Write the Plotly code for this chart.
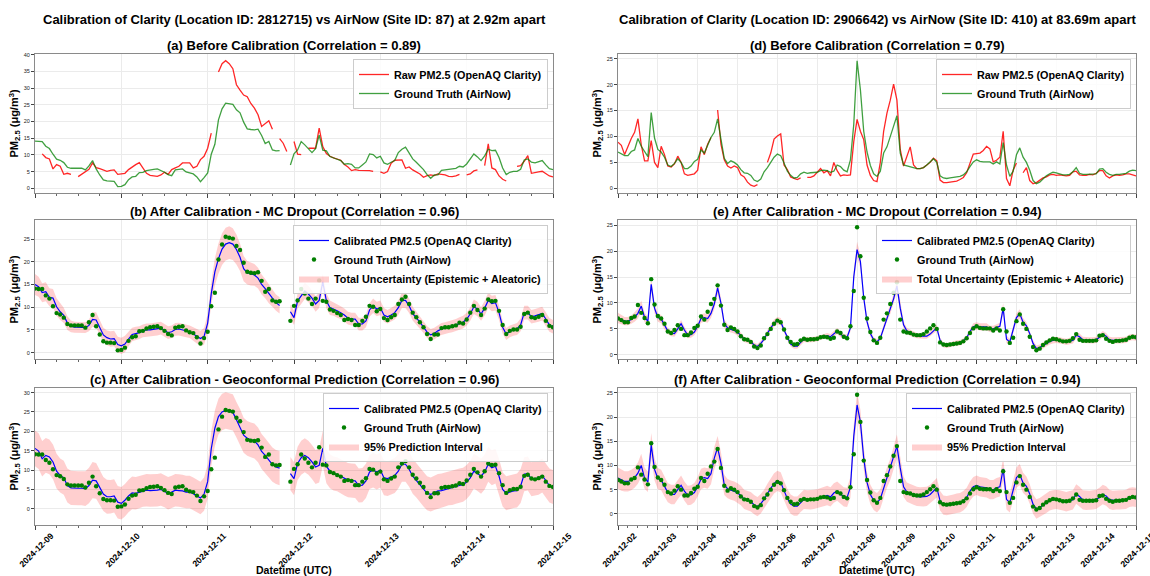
import plotly.graph_objects as go
import pandas as pd

# ---------------- data ----------------
LEFT_START = "2024-12-09"
LEFT_END = "2024-12-15"
RIGHT_START = "2024-12-02"
RIGHT_END = "2024-12-15"

# left site, hourly values 2024-12-09 00:00 .. 2024-12-15 00:00
left_gt = [
    14.1, 14.0, 14.0, 12.6, 11.9, 10.2, 8.7, 8.4, 7.7, 6.3, 6.0, 6.0, 6.0, 6.0, 5.5, 6.7, 8.3, 5.8, 4.0, 2.5, 2.2, 2.2, 2.1, 0.5,
    0.6, 1.1, 2.6, 3.4, 3.6, 4.7, 4.8, 5.3, 5.6, 5.7, 5.8, 5.4, 4.8, 4.1, 3.8, 5.5, 5.7, 5.8, 4.9, 4.5, 4.3, 3.4, 2.0, 3.2,
    4.6, 10.2, 13.2, 20.5, 23.8, 25.5, 25.3, 25.1, 23.5, 22.6, 19.8, 17.8, 17.6, 17.5, 17.7, 15.8, 13.4, 14.0, 11.5, 11.2, 11.3, None, None, 7.0,
    10.3, 11.5, 14.0, 13.0, 11.9, 10.7, 11.9, 15.9, 11.4, 11.2, 9.5, 9.2, 8.7, 8.3, 7.2, 7.4, 7.2, 6.1, 6.1, 7.0, 7.9, 10.3, 10.1, 9.1,
    9.6, 7.6, 7.2, 7.8, 8.3, 10.7, 11.7, 12.3, 10.7, 8.8, 7.8, 6.7, 5.6, 4.1, 3.0, 4.0, 4.0, 5.4, 5.6, 5.6, 5.8, 6.0, 6.6, 6.4,
    7.3, 8.8, 10.3, 9.4, 8.3, 9.7, 11.7, 11.3, 11.4, 9.2, 6.1, 4.1, 4.8, 5.1, 5.1, 5.7, 8.5, 8.8, 7.8, 7.6, 7.9, 8.3, 7.0, 5.9, 5.6,
]
left_raw = [
    None, None, 10.3, 9.2, 8.8, 5.8, 7.1, 6.6, 4.2, 4.5, 4.2, None, 3.5, 4.3, 5.0, 5.7, 7.6, 6.2, 5.9, 5.4, 5.1, 5.4, 5.5, 4.2,
    4.4, 4.5, 5.6, 6.4, 7.1, 7.7, 6.1, 4.5, 3.9, 3.7, 3.6, 4.0, 4.8, 4.2, 5.6, 6.1, 6.6, 7.6, 7.6, 7.6, 6.1, 6.6, 8.6, 9.6,
    12.0, 16.5, None, 34.8, 37.3, 38.2, 37.3, 35.8, 31.0, 29.4, 27.9, 27.4, 25.4, 24.0, 22.0, 18.5, 19.5, 20.2, 17.7, None, 14.9, 13.5, 11.0, None,
    14.0, 10.2, 10.1, None, 12.0, 11.9, 12.0, 18.0, 12.5, 10.4, 9.6, 9.1, 8.8, 8.4, 7.1, 6.4, 5.3, 5.6, 5.4, 5.4, 5.3, 5.3, 5.1, None,
    4.9, 4.5, 5.0, 7.5, 8.4, 8.5, 8.5, 6.0, 6.4, 5.5, 5.0, 4.3, 3.3, 3.8, 4.0, 3.8, 4.3, 4.2, 4.0, 3.6, 3.5, 3.7, 4.2, None,
    4.0, 4.3, 5.2, 5.5, None, 6.8, 13.3, 6.1, 5.6, 3.7, 2.7, 2.2, None, None, 6.6, 6.8, 8.1, 9.8, 4.5, 4.6, 4.9, 5.1, 4.5, 3.7, 3.4,
]
left_mc = [
    15.0, 14.5, 13.2, 13.4, 12.2, 12.0, 10.1, 9.0, 8.2, 6.5, 5.8, 5.6, 5.6, 5.5, 5.5, 6.0, 7.3, 7.2, 5.6, 3.9, 3.3, 3.0, 3.1, 1.8,
    1.5, 1.9, 3.0, 4.0, 4.2, 4.4, 4.8, 5.0, 5.0, 5.1, 5.2, 5.4, 4.9, 4.4, 4.6, 5.1, 5.2, 5.0, 4.8, 4.6, 4.1, 3.6, 3.1, 3.6,
    6.5, 13.0, 17.8, 20.7, 22.8, 23.9, 24.2, 23.9, 22.7, 21.0, 18.5, 17.6, 17.3, 17.1, 16.4, 15.0, 14.1, 12.9, 12.0, 11.0, 10.4, None, None, 9.0,
    7.7, 11.4, 12.5, 13.6, 12.9, 12.0, 10.7, 11.5, 15.6, 11.4, 9.9, 9.6, 9.2, 8.8, 8.3, 7.6, 7.4, 7.4, 6.3, 6.3, 7.0, 9.4, 10.3, 9.6,
    9.9, 8.3, 7.9, 8.3, 8.8, 9.9, 11.5, 11.5, 10.3, 8.6, 7.7, 6.7, 5.6, 4.5, 3.9, 4.2, 4.8, 5.2, 5.4, 5.6, 5.8, 6.1, 6.4, 6.7,
    7.4, 8.5, 10.1, 9.6, 8.5, 9.8, 11.5, 10.8, 11.0, 8.8, 5.6, 4.1, 4.7, 5.0, 5.2, 6.1, 8.8, 8.8, 7.9, 8.1, 8.3, 8.6, 7.4, 6.1, 5.7,
]
left_mc_unc = [
    2.3, 2.2, 2.1, 2.1, 2.0, 2.0, 1.9, 1.8, 1.7, 1.5, 1.3, 1.2, 1.2, 1.2, 1.2, 1.3, 1.6, 1.7, 1.6, 1.6, 1.6, 1.7, 1.7, 1.7,
    1.8, 1.8, 1.6, 1.5, 1.5, 1.4, 1.4, 1.4, 1.4, 1.4, 1.4, 1.4, 1.4, 1.4, 1.4, 1.4, 1.4, 1.4, 1.4, 1.4, 1.5, 1.6, 1.7, 1.8,
    2.0, 2.5, 3.0, 3.3, 3.5, 3.6, 3.6, 3.5, 3.3, 3.0, 2.8, 2.6, 2.5, 2.4, 2.3, 2.2, 2.1, 2.0, 1.9, 1.8, 1.8, 1.8, 1.8, 1.6,
    1.6, 1.7, 1.8, 1.8, 1.8, 1.7, 1.7, 1.7, 1.8, 1.7, 1.6, 1.5, 1.5, 1.4, 1.4, 1.4, 1.4, 1.4, 1.4, 1.4, 1.4, 1.5, 1.6, 1.6,
    1.6, 1.5, 1.5, 1.5, 1.5, 1.6, 1.7, 1.7, 1.6, 1.5, 1.4, 1.4, 1.3, 1.3, 1.3, 1.3, 1.3, 1.3, 1.3, 1.3, 1.3, 1.3, 1.4, 1.4,
    1.4, 1.5, 1.6, 1.6, 1.5, 1.6, 1.7, 1.7, 1.7, 1.6, 1.4, 1.3, 1.3, 1.3, 1.3, 1.4, 1.5, 1.5, 1.5, 1.5, 1.5, 1.5, 1.5, 1.5, 1.5,
]
left_geo = [
    15.6, 14.9, 12.9, 13.8, 13.4, 12.1, 9.7, 8.6, 8.0, 6.0, 5.4, 5.3, 5.3, 5.3, 5.2, 6.0, 7.4, 7.2, 5.4, 3.8, 3.1, 3.1, 3.3, 1.7,
    1.4, 2.2, 3.3, 4.1, 4.0, 4.3, 4.7, 4.8, 4.7, 4.7, 4.8, 5.0, 4.6, 4.0, 4.3, 4.8, 4.7, 4.6, 4.3, 4.3, 3.9, 3.3, 2.8, 3.8,
    7.0, 15.5, 20.8, 23.8, 25.0, 25.4, 25.2, 24.9, 23.0, 21.2, 19.0, 18.2, 17.8, 17.5, 16.5, 14.8, 13.8, 12.5, 11.4, 10.8, 10.5, None, None, 9.1,
    7.8, 11.7, 13.2, 13.8, 13.2, 12.1, 10.8, 11.2, 15.6, 11.0, 9.7, 9.1, 8.9, 8.4, 7.8, 7.4, 7.3, 7.2, 6.0, 6.1, 7.2, 9.5, 10.0, 9.5,
    10.0, 8.0, 7.8, 8.2, 8.6, 9.7, 11.5, 11.5, 10.2, 8.4, 7.3, 6.3, 5.0, 4.0, 3.7, 4.1, 4.6, 4.7, 5.0, 5.3, 5.4, 5.7, 6.0, 6.2,
    6.9, 8.0, 9.7, 9.1, 8.4, 9.5, 11.5, 10.6, 11.0, 8.4, 5.0, 4.0, 4.3, 4.6, 4.7, 5.9, 8.9, 9.1, 7.6, 7.8, 8.0, 8.6, 7.2, 6.0, 5.6,
]
left_geo_unc = [
    4.6, 4.6, 4.6, 4.5, 4.5, 4.5, 4.5, 4.4, 4.4, 4.4, 4.4, 4.4, 4.4, 4.4, 4.5, 4.6, 4.7, 4.6, 4.5, 4.4, 4.4, 4.3, 4.3, 4.2,
    4.2, 4.2, 4.2, 4.2, 4.2, 4.2, 4.2, 4.2, 4.2, 4.2, 4.2, 4.2, 4.2, 4.2, 4.2, 4.2, 4.2, 4.2, 4.2, 4.2, 4.2, 4.2, 4.2, 4.3,
    4.4, 4.5, 4.6, 4.6, 4.7, 4.7, 4.7, 4.7, 4.6, 4.6, 4.5, 4.5, 4.5, 4.5, 4.5, 4.5, 4.4, 4.4, 4.4, 4.4, 4.4, 4.4, 4.4, 4.3,
    4.3, 4.3, 4.4, 4.4, 4.4, 4.4, 4.4, 4.4, 4.5, 4.4, 4.4, 4.4, 4.4, 4.4, 4.4, 4.4, 4.4, 4.4, 4.4, 4.4, 4.4, 4.4, 4.5, 4.5,
    4.5, 4.5, 4.5, 4.5, 4.5, 4.5, 4.5, 4.5, 4.5, 4.5, 4.4, 4.4, 4.4, 4.4, 4.4, 4.4, 4.4, 4.4, 4.4, 4.4, 4.4, 4.4, 4.4, 4.4,
    4.4, 4.4, 4.5, 4.5, 4.5, 4.5, 4.5, 4.5, 4.5, 4.5, 4.4, 4.4, 4.4, 4.4, 4.4, 4.4, 4.4, 4.4, 4.4, 4.4, 4.4, 4.4, 4.4, 4.4, 4.4,
]

# right site, 2-hourly values 2024-12-02 00:00 .. 2024-12-15 00:00
right_gt = [
    7.0, 6.7, 6.3, 6.3, 7.1, 7.4, 9.6, 8.1, 7.1, 6.1, 14.6, 9.7,
    7.5, 7.0, 6.0, 4.5, 4.2, 4.8, 5.7, 5.0, 3.8, 3.8, 4.3, 5.2,
    5.6, 7.4, 6.8, 8.3, 9.8, 10.8, 13.4, 9.5, 5.8, 4.8, 5.3, 5.0,
    4.5, 3.6, 3.0, 2.9, 2.5, 1.6, 1.3, 1.8, 3.2, 4.0, 5.0, 6.0,
    6.6, 6.3, 4.9, 3.3, 2.5, 2.0, 2.1, 2.8, 3.1, 2.9, 3.0, 3.0,
    3.1, 3.4, 3.5, 3.4, 3.1, 3.3, 4.5, 4.2, 3.5, 3.2, 5.5, 12.3,
    24.6, 19.0, 11.0, 7.0, 4.4, 2.8, 2.3, 3.3, 6.8, 8.0, 9.8, 12.0,
    14.0, 6.8, 4.5, 4.3, 4.2, 3.9, 3.8, 3.8, 4.0, 4.5, 5.1, 5.7,
    5.0, 2.4, 2.0, 1.9, 2.0, 2.1, 2.2, 2.3, 2.6, 3.2, 4.2, 5.1,
    5.5, 5.2, 5.1, 5.1, 5.1, 4.7, 5.1, 4.7, 8.8, 4.5, 2.3, 3.3,
    6.5, 7.8, 6.0, 5.0, 3.5, 1.5, 0.9, 1.2, 1.9, 2.4, 2.8, 3.1,
    3.0, 2.8, 2.6, 2.6, 2.7, 3.2, 4.0, 2.9, 2.7, 2.7, 2.7, 2.7,
    2.8, 3.7, 3.8, 3.1, 2.7, 2.5, 2.7, 2.7, 2.8, 2.9, 3.3, 3.5, 3.4,
]
right_raw = [
    8.9, 8.3, 6.5, 8.2, 9.6, 10.8, 13.4, 8.4, 5.3, 5.3, 9.2, 5.0,
    4.0, 8.1, 6.5, 4.3, 4.1, 4.7, 6.2, 5.0, 2.8, 2.5, 2.7, 2.8,
    3.5, 8.0, 6.5, 8.5, 9.8, None, 15.1, 8.5, 5.5, 4.3, 3.9, 4.3,
    4.0, 2.6, 2.2, 1.2, 0.6, 0.4, 0.7, None, None, 5.0, 6.8, 9.5,
    10.1, 10.5, 4.5, 3.6, 2.2, 1.9, 1.7, 2.0, None, 2.1, 2.1, 2.4,
    3.2, 3.8, 3.0, 3.4, 2.4, 5.0, 3.4, 2.4, 2.6, 2.5, 2.6, 9.0,
    13.3, 11.0, 9.4, 4.5, 2.5, 1.5, 1.3, 5.0, 11.0, 14.5, 17.0, 20.1,
    17.0, 7.5, 4.3, 6.0, 8.0, 4.5, 3.8, 3.8, 4.0, 4.5, 5.0, 5.8,
    5.3, 1.6, 1.1, 1.1, 1.2, 1.3, 1.4, 1.7, 2.1, 3.0, 4.9, 6.6,
    6.7, 6.8, 7.3, 8.1, 7.6, 5.1, 5.4, 6.0, 11.0, 1.9, 0.5, 3.5,
    4.9, None, 3.0, 4.0, 1.5, 0.9, 1.1, 1.6, 2.0, 2.2, 2.6, 2.7,
    2.5, 2.6, 2.5, 2.4, 2.5, 3.2, 3.3, 2.6, 2.5, 2.5, 2.7, 2.6,
    2.9, 3.4, 3.4, 2.4, 2.0, 2.4, 2.6, 2.5, 2.6, 2.8, 2.8, 2.6, 2.4,
]
right_mc = [
    7.1, 6.8, 6.5, 6.5, 6.8, 7.3, 8.0, 9.4, 7.2, 6.5, 13.6, 9.0,
    7.2, 6.9, 5.6, 4.6, 4.2, 4.1, 5.0, 6.0, 4.8, 3.8, 3.9, 4.4,
    5.5, 7.0, 7.2, 7.0, 8.0, 9.8, 12.9, 10.0, 6.0, 5.2, 4.9, 4.7,
    4.3, 3.8, 3.0, 2.8, 2.5, 1.9, 1.6, 2.2, 3.0, 4.2, 5.2, 6.1,
    6.6, 6.4, 4.8, 3.3, 2.1, 1.7, 1.7, 2.4, 3.0, 2.9, 2.9, 3.0,
    3.1, 3.3, 3.6, 3.7, 3.5, 4.1, 4.6, 4.0, 3.5, 3.4, 5.2, 15.0,
    20.3, 18.0, 11.0, 6.4, 4.1, 2.9, 2.5, 3.2, 5.2, 7.2, 8.8, 10.8,
    13.3, 9.0, 5.8, 4.6, 4.3, 4.0, 3.7, 3.6, 3.6, 3.6, 4.0, 4.7,
    5.2, 2.8, 1.9, 1.8, 1.9, 2.1, 2.3, 2.3, 2.7, 3.3, 4.5, 5.4,
    5.6, 5.4, 5.4, 5.4, 5.0, 5.0, 5.3, 5.5, 9.0, 3.0, 2.5, 4.7,
    7.2, 7.9, 6.3, 5.6, 4.1, 2.2, 1.2, 1.4, 1.8, 2.2, 2.6, 2.8,
    2.9, 2.8, 2.7, 2.5, 2.7, 2.8, 3.8, 3.5, 2.9, 2.8, 2.8, 2.8,
    2.9, 3.4, 4.0, 3.6, 2.9, 2.8, 2.8, 2.8, 2.8, 2.9, 3.3, 3.4, 3.3,
]
right_mc_unc = [
    1.0, 0.9, 0.8, 0.8, 0.8, 0.9, 1.0, 1.1, 0.9, 0.8, 1.3, 1.0,
    0.8, 0.8, 0.7, 0.6, 0.6, 0.6, 0.6, 0.7, 0.6, 0.6, 0.6, 0.6,
    0.7, 0.8, 0.8, 0.8, 0.9, 1.0, 1.2, 1.0, 0.8, 0.7, 0.6, 0.6,
    0.6, 0.5, 0.5, 0.5, 0.5, 0.5, 0.5, 0.5, 0.5, 0.6, 0.6, 0.7,
    0.7, 0.7, 0.6, 0.5, 0.5, 0.5, 0.5, 0.5, 0.5, 0.5, 0.5, 0.5,
    0.5, 0.5, 0.5, 0.5, 0.5, 0.5, 0.6, 0.6, 0.5, 0.5, 0.7, 1.2,
    1.5, 1.3, 1.0, 0.8, 0.6, 0.5, 0.5, 0.5, 0.7, 0.8, 0.9, 1.0,
    1.2, 1.0, 0.7, 0.6, 0.6, 0.6, 0.5, 0.5, 0.5, 0.5, 0.5, 0.6,
    0.6, 0.5, 0.5, 0.5, 0.5, 0.5, 0.5, 0.5, 0.5, 0.5, 0.6, 0.7,
    0.7, 0.7, 0.7, 0.7, 0.6, 0.6, 0.6, 0.7, 1.0, 0.7, 0.6, 0.7,
    0.8, 0.9, 0.8, 0.7, 0.6, 0.6, 0.6, 0.6, 0.6, 0.6, 0.6, 0.6,
    0.6, 0.6, 0.6, 0.6, 0.6, 0.6, 0.6, 0.6, 0.6, 0.6, 0.6, 0.6,
    0.6, 0.6, 0.6, 0.6, 0.6, 0.6, 0.6, 0.6, 0.6, 0.6, 0.6, 0.6, 0.6,
]
right_geo = [
    7.4, 7.0, 6.7, 6.7, 7.0, 7.5, 8.4, 10.0, 7.4, 6.6, 14.2, 9.2,
    7.3, 7.0, 5.6, 4.4, 4.0, 4.0, 5.0, 5.9, 4.7, 3.8, 3.9, 4.4,
    5.6, 7.2, 7.5, 7.3, 8.3, 11.5, 13.7, 10.5, 6.0, 5.2, 4.9, 4.7,
    4.3, 3.8, 3.0, 2.8, 2.5, 1.9, 1.5, 2.1, 3.0, 4.2, 5.3, 6.3,
    6.8, 6.5, 4.8, 3.2, 2.0, 1.6, 1.6, 2.4, 3.0, 2.9, 2.9, 3.0,
    3.1, 3.3, 3.6, 3.8, 3.5, 4.3, 4.7, 4.1, 3.5, 3.4, 5.5, 16.0,
    22.5, 19.0, 11.5, 6.5, 4.0, 2.8, 2.3, 3.1, 5.3, 7.5, 9.2, 11.5,
    14.0, 9.5, 5.6, 4.5, 4.2, 3.9, 3.6, 3.5, 3.5, 3.6, 4.0, 4.8,
    5.4, 2.7, 1.8, 1.7, 1.8, 2.0, 2.2, 2.3, 2.7, 3.4, 4.7, 5.6,
    5.9, 5.6, 5.5, 5.4, 5.0, 5.0, 5.4, 5.6, 9.3, 3.0, 2.3, 4.8,
    7.5, 8.1, 6.4, 5.7, 4.1, 2.0, 1.0, 1.3, 1.8, 2.2, 2.7, 2.9,
    3.0, 2.9, 2.7, 2.5, 2.7, 2.9, 4.1, 3.6, 2.9, 2.8, 2.8, 2.9,
    3.0, 3.4, 4.0, 3.7, 3.0, 2.8, 2.9, 2.9, 2.9, 3.0, 3.4, 3.5, 3.4,
]
right_geo_unc = [
    2.2, 2.2, 2.1, 2.1, 2.1, 2.1, 2.2, 2.4, 2.2, 2.1, 2.5, 2.3,
    2.2, 2.1, 2.0, 2.0, 2.0, 2.0, 2.0, 2.0, 2.0, 2.0, 2.0, 2.0,
    2.0, 2.1, 2.1, 2.1, 2.2, 2.3, 2.4, 2.3, 2.1, 2.0, 2.0, 2.0,
    2.0, 2.0, 2.0, 2.0, 2.0, 2.0, 2.0, 2.0, 2.0, 2.0, 2.1, 2.1,
    2.1, 2.1, 2.0, 2.0, 2.0, 2.0, 2.0, 2.0, 2.0, 2.0, 2.0, 2.0,
    2.0, 2.0, 2.0, 2.0, 2.0, 2.0, 2.0, 2.0, 2.0, 2.0, 2.1, 2.4,
    2.7, 2.5, 2.3, 2.1, 2.0, 2.0, 2.0, 2.0, 2.1, 2.1, 2.2, 2.3,
    2.4, 2.3, 2.1, 2.0, 2.0, 2.0, 2.0, 2.0, 2.0, 2.0, 2.0, 2.0,
    2.0, 2.0, 2.0, 2.0, 2.0, 2.0, 2.0, 2.0, 2.0, 2.0, 2.0, 2.0,
    2.0, 2.0, 2.0, 2.0, 2.0, 2.0, 2.0, 2.0, 2.4, 2.1, 2.0, 2.0,
    2.1, 2.2, 2.1, 2.0, 2.0, 2.0, 2.0, 2.0, 2.0, 2.0, 2.0, 2.0,
    2.0, 2.0, 2.0, 2.0, 2.0, 2.0, 2.0, 2.0, 2.0, 2.0, 2.0, 2.0,
    2.0, 2.0, 2.0, 2.0, 2.0, 2.0, 2.0, 2.0, 2.0, 2.0, 2.0, 2.0, 2.0,
]

sup_titles = [
    "Calibration of Clarity (Location ID: 2812715) vs AirNow (Site ID: 87) at 2.92m apart",
    "Calibration of Clarity (Location ID: 2906642) vs AirNow (Site ID: 410) at 83.69m apart",
]
panel_titles = [
    "(a) Before Calibration (Correlation = 0.89)",
    "(b) After Calibration - MC Dropout (Correlation = 0.96)",
    "(c) After Calibration - Geoconformal Prediction (Correlation = 0.96)",
    "(d) Before Calibration (Correlation = 0.79)",
    "(e) After Calibration - MC Dropout (Correlation = 0.94)",
    "(f) After Calibration - Geoconformal Prediction (Correlation = 0.94)",
]
NAME_RAW = "Raw PM2.5 (OpenAQ Clarity)"
NAME_GT = "Ground Truth (AirNow)"
NAME_CAL = "Calibrated PM2.5 (OpenAQ Clarity)"
NAME_MC = "Total Uncertainty (Epistemic + Aleatoric)"
NAME_PI = "95% Prediction Interval"
Y_TITLE = "PM<sub>2.5</sub> (μg/m<sup>3</sup>)"
X_TITLE = "Datetime (UTC)"

y_ranges = [[-1.4, 40.2], [-1.4, 29.2], [-4.2, 31.2], [-0.9, 25.9], [-0.8, 26.0], [-2.3, 26.0]]

for arr in (left_raw, left_mc, left_mc_unc, left_geo, left_geo_unc):
    assert len(arr) == len(left_gt), len(arr)
for arr in (right_raw, right_mc, right_mc_unc, right_geo, right_geo_unc):
    assert len(arr) == len(right_gt), len(arr)

# ---------------- styling / layout ----------------
W, H = 1150, 576
FONT = "Liberation Sans"
PINK = "rgba(255,0,0,0.19)"
GRID = "#ebebeb"
FRAME = "#8a8a8a"

left_x = [t.strftime("%Y-%m-%d %H:%M") for t in pd.date_range(LEFT_START, periods=len(left_gt), freq="h")]
right_x = [t.strftime("%Y-%m-%d %H:%M") for t in pd.date_range(RIGHT_START, periods=len(right_gt), freq="2h")]

col_px = [(35, 553), (618, 1136)]
row_px = [(54, 193), (220, 359), (388, 525)]


def px_x(p):
    return p / W


def px_y(p):
    return 1 - p / H


def segments(vals):
    segs, cur = [], []
    for i, v in enumerate(vals):
        if v is None:
            if cur:
                segs.append(cur)
                cur = []
        else:
            cur.append(i)
    if cur:
        segs.append(cur)
    return segs


def legend_key(idx):
    return "legend" if idx == 1 else f"legend{idx}"


fig = go.Figure()


def add_band(x, center, hw, idx, name):
    first = True
    for seg in segments(center):
        xs = [x[i] for i in seg]
        up = [center[i] + hw[i] for i in seg]
        lo = [center[i] - hw[i] for i in seg]
        fig.add_trace(go.Scatter(
            x=xs + xs[::-1], y=up + lo[::-1], fill="toself", fillcolor=PINK,
            mode="lines", line=dict(width=0, color=PINK), name=name,
            showlegend=first, legendrank=3, hoverinfo="skip",
            xaxis=f"x{idx}", yaxis=f"y{idx}", legend=legend_key(idx)))
        first = False


def add_line(x, y, idx, name, color, width, rank):
    fig.add_trace(go.Scatter(
        x=x, y=y, mode="lines", line=dict(color=color, width=width), name=name,
        legendrank=rank, connectgaps=False,
        xaxis=f"x{idx}", yaxis=f"y{idx}", legend=legend_key(idx)))


def add_dots(x, y, idx, name):
    fig.add_trace(go.Scatter(
        x=x, y=y, mode="markers", marker=dict(color="#007f00", size=4.4), name=name,
        legendrank=2, xaxis=f"x{idx}", yaxis=f"y{idx}", legend=legend_key(idx)))


# (a)
add_line(left_x, left_raw, 1, NAME_RAW, "rgba(255,0,0,0.85)", 1.3, 1)
add_line(left_x, left_gt, 1, NAME_GT, "rgba(0,128,0,0.75)", 1.3, 2)
# (b)
add_band(left_x, left_mc, left_mc_unc, 2, NAME_MC)
add_line(left_x, left_mc, 2, NAME_CAL, "blue", 1.2, 1)
add_dots(left_x, left_gt, 2, NAME_GT)
# (c)
add_band(left_x, left_geo, left_geo_unc, 3, NAME_PI)
add_line(left_x, left_geo, 3, NAME_CAL, "blue", 1.2, 1)
add_dots(left_x, left_gt, 3, NAME_GT)
# (d)
add_line(right_x, right_raw, 4, NAME_RAW, "rgba(255,0,0,0.85)", 1.3, 1)
add_line(right_x, right_gt, 4, NAME_GT, "rgba(0,128,0,0.75)", 1.3, 2)
# (e)
add_band(right_x, right_mc, right_mc_unc, 5, NAME_MC)
add_line(right_x, right_mc, 5, NAME_CAL, "blue", 1.2, 1)
add_dots(right_x, right_gt, 5, NAME_GT)
# (f)
add_band(right_x, right_geo, right_geo_unc, 6, NAME_PI)
add_line(right_x, right_geo, 6, NAME_CAL, "blue", 1.2, 1)
add_dots(right_x, right_gt, 6, NAME_GT)

layout = dict(
    template="none",
    width=W, height=H, margin=dict(l=0, r=0, t=0, b=0, autoexpand=False),
    paper_bgcolor="white", plot_bgcolor="white",
    font=dict(family=FONT, color="black"),
    showlegend=True, annotations=[],
)

ann = layout["annotations"]
for p in range(6):
    idx = p + 1
    col = p // 3
    row = p % 3
    x0, x1 = col_px[col]
    y0, y1 = row_px[row]
    start, end = (LEFT_START, LEFT_END) if col == 0 else (RIGHT_START, RIGHT_END)
    layout[f"xaxis{idx}"] = dict(
        domain=[px_x(x0), px_x(x1)], anchor=f"y{idx}", type="date", automargin=False,
        range=[start, end], tick0=start, dtick=86400000, tickformat="%Y-%m-%d",
        tickangle=-45, showticklabels=(row == 2), ticklabeloverflow="allow",
        ticklabelstandoff=-2, ticklabelshift=16,
        tickfont=dict(size=8.6, family=FONT, color="black", weight="bold"),
        ticks="outside", ticklen=3.5, tickwidth=1, tickcolor="#444",
        minor=dict(dtick=6 * 3600000, ticks="outside", ticklen=2, tickcolor="#666", showgrid=False),
        showgrid=True, gridcolor=GRID, gridwidth=1,
        showline=True, mirror=True, linecolor=FRAME, linewidth=1, zeroline=False,
    )
    layout[f"yaxis{idx}"] = dict(
        domain=[px_y(y1), px_y(y0)], anchor=f"x{idx}", range=y_ranges[p], automargin=False,
        tick0=0, dtick=5, ticks="outside", ticklen=3, tickcolor="#444",
        tickfont=dict(size=5.5, family=FONT, color="#222"),
        showgrid=True, gridcolor=GRID, gridwidth=1,
        showline=True, mirror=True, linecolor=FRAME, linewidth=1, zeroline=False,
    )
    layout[legend_key(idx)] = dict(
        x=px_x(x1 - 5), y=px_y(y0 + 5), xanchor="right", yanchor="top",
        bgcolor="rgba(255,255,255,0.85)", bordercolor="#cccccc", borderwidth=1,
        font=dict(size=10.8, family=FONT, color="black", weight="bold"),
        itemwidth=30, tracegroupgap=0,
    )
    # panel title
    ann.append(dict(text=f"<b>{panel_titles[p]}</b>", x=px_x((x0 + x1) / 2), y=px_y(y0 - 9),
                    xref="paper", yref="paper", xanchor="center", yanchor="middle",
                    showarrow=False, font=dict(size=13, family=FONT, color="black")))
    # y title
    ann.append(dict(text=f"<b>{Y_TITLE}</b>", x=px_x(x0 - 21), y=px_y((y0 + y1) / 2),
                    xref="paper", yref="paper", xanchor="center", yanchor="middle",
                    textangle=-90, showarrow=False, font=dict(size=11, family=FONT, color="black")))

for c in range(2):
    x0, x1 = col_px[c]
    ann.append(dict(text=f"<b>{sup_titles[c]}</b>", x=px_x((x0 + x1) / 2), y=px_y(20),
                    xref="paper", yref="paper", xanchor="center", yanchor="middle",
                    showarrow=False, font=dict(size=13, family=FONT, color="black")))
    ann.append(dict(text=f"<b>{X_TITLE}</b>", x=px_x((x0 + x1) / 2), y=px_y(570),
                    xref="paper", yref="paper", xanchor="center", yanchor="middle",
                    showarrow=False, font=dict(size=10.5, family=FONT, color="black")))

fig.update_layout(**layout)
fig.write_html("out.html")
